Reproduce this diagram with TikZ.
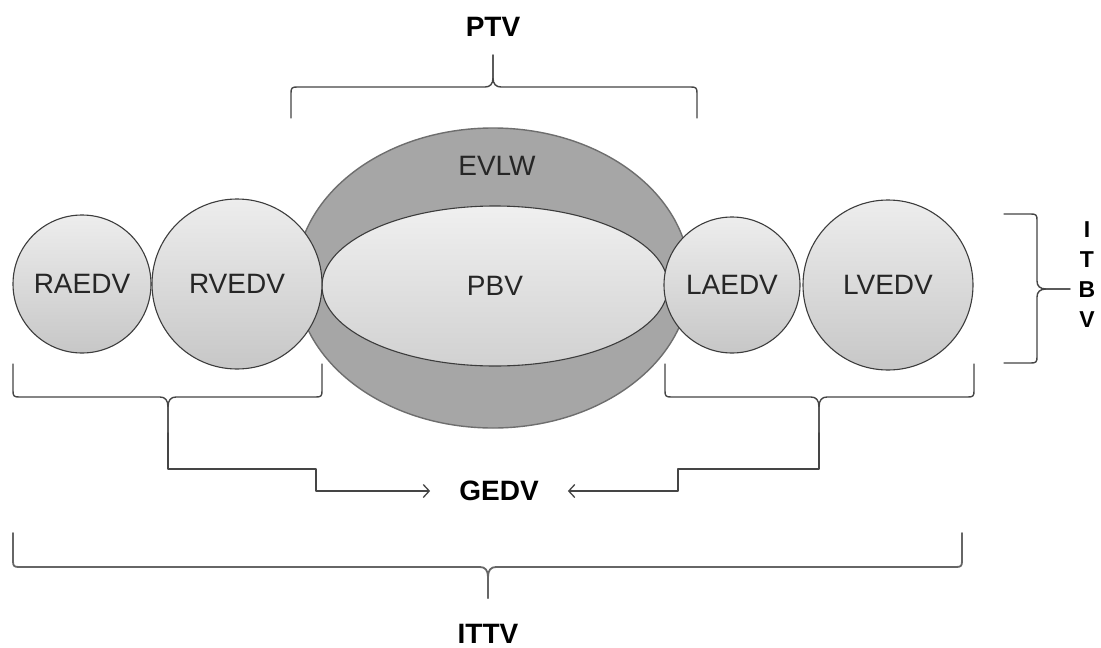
\documentclass[tikz,border=0pt]{standalone}
\usepackage{fontspec}
\setmainfont{Liberation Sans}
\usetikzlibrary{shapes.geometric,arrows.meta}
\definecolor{edge}{HTML}{3C3C3C}
\definecolor{ringfill}{HTML}{A6A6A6}
\definecolor{ringedge}{HTML}{6E6E6E}
\definecolor{bracecol}{HTML}{454545}
\tikzset{
  bubble/.style={circle,draw=edge,line width=1.1pt,top color=white!93!black,bottom color=white!78!black,
    inner sep=0pt,font=\fontsize{28}{32}\selectfont,text=black!85},
  lbl/.style={font=\fontsize{28}{32}\selectfont\bfseries,text=black,inner sep=0pt},
  bracestyle/.style={draw=bracecol,line width=1.4pt,line cap=round,line join=round},
  arr/.style={bracestyle,-{Straight Barb[length=6pt,width=13pt,line width=1.3pt]}}
}
\begin{document}
\begin{tikzpicture}[x=1pt,y=-1pt]
\useasboundingbox[fill=white] (0,0) rectangle (1101,648);
% outer ring
\node[ellipse,draw=ringedge,line width=1.4pt,fill=ringfill,minimum width=394pt,minimum height=300pt,inner sep=0pt] (evlwshape) at (493,278) {};
\node[font=\fontsize{28}{32}\selectfont,text=black!85] (EVLW) at (497,166) {EVLW};
\node[ellipse,draw=edge,line width=1.1pt,top color=white!94!black,bottom color=white!82!black,minimum width=346pt,minimum height=160pt,inner sep=0pt,font=\fontsize{28}{32}\selectfont,text=black!85] (PBV) at (495,286) {PBV};
% circles
\node[bubble,minimum size=138pt] (RAEDV) at (82,284) {RAEDV};
\node[bubble,minimum size=170pt] (RVEDV) at (237,284) {RVEDV};
\node[bubble,minimum size=136pt] (LAEDV) at (732,285) {LAEDV};
\node[bubble,minimum size=170pt] (LVEDV) at (888,285) {LVEDV};
% labels
\node[lbl] (PTV) at (493,27) {PTV};
\node[lbl,inner xsep=29pt] (GEDV) at (499,491) {GEDV};
\node[lbl] (ITTV) at (488,634) {ITTV};
\node[font=\fontsize{23}{30}\selectfont\bfseries,align=center,inner sep=0pt] (ITBV) at (1087,275) {I\\T\\B\\V};
% PTV brace (opens downward)
\coordinate (ptvL) at (291,118);
\coordinate (ptvR) at (697,118);
\coordinate (ptvT) at (493,55);
\draw[bracestyle] (ptvL) -- (291,93) .. controls (291,88) and (292,87) .. (297,87) -- (485,87) .. controls (490,87) and (493,84) .. (493,78) -- (ptvT);
\draw[bracestyle] (ptvR) -- (697,93) .. controls (697,88) and (696,87) .. (691,87) -- (501,87) .. controls (496,87) and (493,84) .. (493,78) -- (ptvT);
% lower left brace
\coordinate (lbL) at (13,364);
\coordinate (lbR) at (322,364);
\coordinate (lbT) at (168,433);
\draw[bracestyle] (lbL) -- (13,391) .. controls (13,396) and (14,397) .. (19,397) -- (160,397) .. controls (165,397) and (168,400) .. (168,407) -- (lbT);
\draw[bracestyle] (lbR) -- (322,391) .. controls (322,396) and (321,397) .. (316,397) -- (176,397) .. controls (171,397) and (168,400) .. (168,407) -- (lbT);
% lower right brace
\coordinate (rbL) at (665,364);
\coordinate (rbR) at (974,364);
\coordinate (rbT) at (819,433);
\draw[bracestyle] (rbL) -- (665,391) .. controls (665,396) and (666,397) .. (671,397) -- (811,397) .. controls (816,397) and (819,400) .. (819,407) -- (rbT);
\draw[bracestyle] (rbR) -- (974,391) .. controls (974,396) and (973,397) .. (968,397) -- (827,397) .. controls (822,397) and (819,400) .. (819,407) -- (rbT);
% arrows to GEDV
\draw[arr] (lbT) -- (168,469) -- (316,469) -- (316,491) -- (GEDV.west);
\draw[arr] (rbT) -- (819,469) -- (678,469) -- (678,491) -- (GEDV.east);
% ITBV brace (opens left)
\coordinate (ibT) at (1004,214);
\coordinate (ibB) at (1004,363);
\coordinate (ibM) at (1070,289);
\draw[bracestyle] (ibT) -- (1031,214) .. controls (1036,214) and (1037,215) .. (1037,220) -- (1037,281) .. controls (1037,286) and (1040,289) .. (1046,289) -- (ibM);
\draw[bracestyle] (ibB) -- (1031,363) .. controls (1036,363) and (1037,362) .. (1037,357) -- (1037,297) .. controls (1037,292) and (1040,289) .. (1046,289) -- (ibM);
% ITTV brace (opens upward)
\coordinate (itL) at (13,533);
\coordinate (itR) at (962,533);
\coordinate (itT) at (488,598);
\draw[bracestyle,draw=black!60,line width=1.8pt] (itL) -- (13,561) .. controls (13,566) and (14,567) .. (19,567) -- (480,567) .. controls (485,567) and (488,570) .. (488,577) -- (itT);
\draw[bracestyle,draw=black!60,line width=1.8pt] (itR) -- (962,561) .. controls (962,566) and (961,567) .. (956,567) -- (496,567) .. controls (491,567) and (488,570) .. (488,577) -- (itT);
\end{tikzpicture}
\end{document}
